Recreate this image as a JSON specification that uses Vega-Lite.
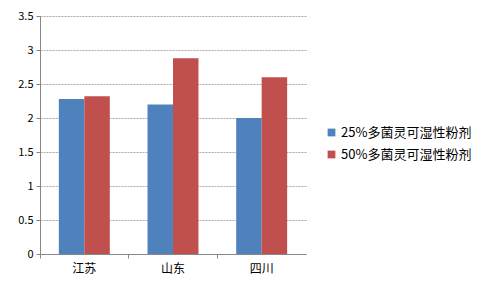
{
  "$schema": "https://vega.github.io/schema/vega-lite/v6.json",
  "width": 266,
  "height": 238,
  "autosize": {"type": "none"},
  "padding": {"left": 40, "top": 16, "right": 176, "bottom": 35},
  "background": "white",
  "config": {
    "view": {"stroke": null},
    "font": "Noto Sans CJK SC",
    "axis": {"labelFont": "Noto Sans CJK SC", "labelColor": "#000000", "labelFontSize": 11}
  },
  "data": {
    "values": [
      {"region": "江苏", "series": "25%多菌灵可湿性粉剂", "value": 2.28},
      {"region": "江苏", "series": "50%多菌灵可湿性粉剂", "value": 2.32},
      {"region": "山东", "series": "25%多菌灵可湿性粉剂", "value": 2.2},
      {"region": "山东", "series": "50%多菌灵可湿性粉剂", "value": 2.88},
      {"region": "四川", "series": "25%多菌灵可湿性粉剂", "value": 2.0},
      {"region": "四川", "series": "50%多菌灵可湿性粉剂", "value": 2.6}
    ]
  },
  "mark": {"type": "bar"},
  "encoding": {
    "x": {
      "field": "region",
      "type": "nominal",
      "sort": ["江苏", "山东", "四川"],
      "scale": {"paddingInner": 0, "paddingOuter": 0},
      "axis": {
        "title": null,
        "labelAngle": 0,
        "bandPosition": 0,
        "domainColor": "#888888",
        "tickColor": "#888888",
        "tickSize": 4,
        "labelPadding": 5,
        "labelFontSize": 12,
        "labelAlign": "center",
        "grid": false
      }
    },
    "xOffset": {
      "field": "series",
      "type": "nominal",
      "scale": {"paddingInner": 0, "paddingOuter": 0.74}
    },
    "y": {
      "field": "value",
      "type": "quantitative",
      "scale": {"domain": [0, 3.5], "nice": false},
      "axis": {
        "title": null,
        "values": [0, 0.5, 1, 1.5, 2, 2.5, 3, 3.5],
        "format": "~g",
        "domainColor": "#888888",
        "tickColor": "#888888",
        "tickSize": 4,
        "labelPadding": 3,
        "gridColor": "#aaaaaa",
        "gridDash": [2, 1],
        "gridWidth": 1
      }
    },
    "color": {
      "field": "series",
      "type": "nominal",
      "scale": {"range": ["#4F81BD", "#C0504D"]},
      "legend": {
        "title": null,
        "orient": "none",
        "legendX": 285,
        "legendY": 110,
        "symbolType": "square",
        "symbolSize": 60,
        "symbolStrokeWidth": 0,
        "labelFontSize": 13,
        "labelFont": "Noto Sans CJK SC",
        "rowPadding": 8,
        "labelOffset": 3
      }
    }
  }
}
